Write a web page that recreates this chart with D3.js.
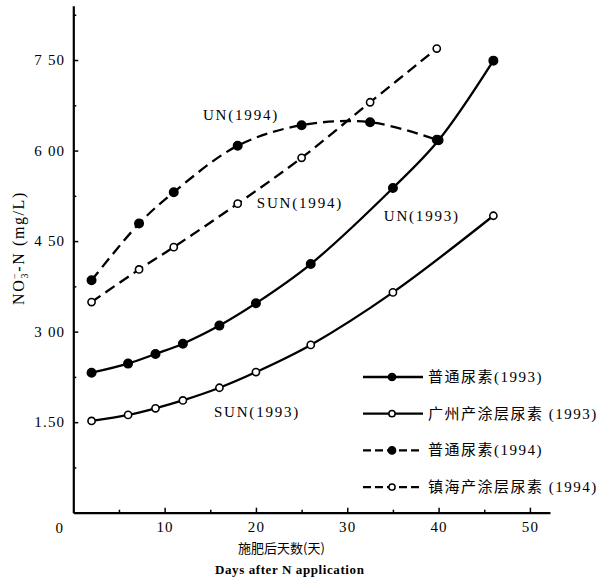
<!DOCTYPE html>
<html>
<head>
<meta charset="utf-8">
<script src="https://cdn.jsdelivr.net/npm/d3@7"></script>
<style>
  body { margin: 0; background: #fff; }
  text { font-family: "Liberation Serif", "DejaVu Serif", "Noto Sans CJK SC", serif; fill: #000; }
</style>
</head>
<body>
<div id="chart"></div>
<script>
// days after N application, and NO3-N values (mg/L)
var days93 = [2, 6, 9, 12, 16, 20, 26, 35, 40, 46];
var un93 = [2.32, 2.47, 2.63, 2.80, 3.10, 3.47, 4.12, 5.38, 6.17, 7.49];
var sun93 = [1.52, 1.62, 1.73, 1.86, 2.07, 2.33, 2.78, 3.65, null, 4.92];
var days94 = [2, 7.2, 11, 18, 25, 32.5, 39.8];
var un94 = [3.85, 4.79, 5.31, 6.08, 6.42, 6.47, 6.18];
var sun94 = [3.49, 4.03, 4.40, 5.12, 5.88, 6.80, 7.69];

var yTicks = [1.5, 3, 4.5, 6, 7.5];
var yTickLabels = ["1.50", "3 00", "4 50", "6 00", "7 50"];
var yMinor = [0.75, 2.25, 3.75, 5.25, 6.75, 8.25];
var xTicks = [10, 20, 30, 40, 50];
var xMinor = [5, 15, 25, 35, 45];

var legendNames = ["普通尿素(1993)", "广州产涂层尿素 (1993)", "普通尿素(1994)", "镇海产涂层尿素 (1994)"];
var curveLabels = [
  {text: "UN(1994)", day: 14.2, val: 6.5},
  {text: "SUN(1994)", day: 20.1, val: 5.05},
  {text: "UN(1993)", day: 34.0, val: 4.83},
  {text: "SUN(1993)", day: 15.4, val: 1.585}
];

var W = 601, H = 581;
var margin = {top: 5.7, right: 51, bottom: 68.3, left: 73.3};
var width = W - margin.left - margin.right,
    height = H - margin.top - margin.bottom;

var svg = d3.select("#chart").append("svg")
    .attr("width", W).attr("height", H)
    .append("g")
    .attr("transform", "translate(" + margin.left + "," + margin.top + ")");

var x = d3.scaleLinear().domain([0, 52.2]).range([0, width]);
var y = d3.scaleLinear().domain([0, 8.4]).range([height, 0]);

// axes
svg.append("g")
    .attr("transform", "translate(0," + height + ")")
    .call(d3.axisBottom(x).tickValues(xTicks).tickSizeInner(-5).tickSizeOuter(0).tickPadding(9));
svg.append("g")
    .attr("transform", "translate(0," + height + ")")
    .call(d3.axisBottom(x).tickValues(xMinor).tickSizeInner(-3).tickSizeOuter(0).tickFormat(""))
    .select(".domain").remove();
svg.append("g")
    .call(d3.axisLeft(y).tickValues(yTicks).tickSizeInner(-5).tickSizeOuter(0).tickPadding(8)
      .tickFormat(function(d, i) { return yTickLabels[i]; }));
svg.append("g")
    .call(d3.axisLeft(y).tickValues(yMinor).tickSizeInner(-3).tickSizeOuter(0).tickFormat(""))
    .select(".domain").remove();

svg.selectAll(".domain").attr("stroke-width", 2.2);
svg.selectAll(".tick line").attr("stroke-width", 1.5);
svg.selectAll(".tick text")
    .style("font-size", "15px")
    .style("letter-spacing", "1.2px")
    .style("font-family", '"Liberation Serif", serif');

svg.append("text").attr("x", -14).attr("y", height + 20)
    .style("font-size", "15px").attr("text-anchor", "middle").text("0");

// axis titles
svg.append("text")
    .attr("x", x(22.8)).attr("y", height + 40)
    .attr("text-anchor", "middle")
    .style("font-size", "13px")
    .style("font-family", '"Noto Sans CJK SC", sans-serif')
    .text("施肥后天数(天)");
svg.append("text")
    .attr("x", x(23.7)).attr("y", height + 61)
    .attr("text-anchor", "middle")
    .style("font-size", "13px").style("font-weight", "bold").style("letter-spacing", "0.6px")
    .text("Days after N application");

var yt = svg.append("text")
    .attr("transform", "translate(" + (-49) + "," + (248 - margin.top) + ") rotate(-90)")
    .attr("text-anchor", "middle")
    .style("font-size", "16px")
    .style("letter-spacing", "1.6px");
yt.append("tspan").text("NO");
yt.append("tspan").style("font-size", "10px").attr("dy", 4).text("3");
yt.append("tspan").style("font-size", "10px").attr("dx", -7).attr("dy", -10).text("−");
yt.append("tspan").attr("dy", 6).text("-N  (mg/L)");

// series
var series = [
  {days: days93, vals: un93, filled: true, dash: null},
  {days: days93, vals: sun93, filled: false, dash: null},
  {days: days94, vals: un94, filled: true, dash: "11,6"},
  {days: days94, vals: sun94, filled: false, dash: "11,6"}
];

var line = d3.line()
    .x(function(d) { return x(d[0]); })
    .y(function(d) { return y(d[1]); })
    .curve(d3.curveCatmullRom.alpha(0.5));

series.forEach(function(s) {
  var pts = s.days.map(function(d, i) { return [d, s.vals[i]]; })
      .filter(function(p) { return p[1] != null; });
  svg.append("path")
      .datum(pts)
      .attr("d", line)
      .attr("fill", "none")
      .attr("stroke", "#000")
      .attr("stroke-width", 2.3)
      .attr("stroke-dasharray", s.dash);
  svg.selectAll(null)
      .data(pts)
      .enter()
      .append("circle")
      .attr("cx", function(d) { return x(d[0]); })
      .attr("cy", function(d) { return y(d[1]); })
      .attr("r", s.filled ? 4.2 : 3.6)
      .attr("fill", s.filled ? "#000" : "#fff")
      .attr("stroke", "#000")
      .attr("stroke-width", 1.6);
});

// curve labels
svg.selectAll(".clabel")
    .data(curveLabels)
    .enter()
    .append("text")
    .attr("x", function(d) { return x(d.day); })
    .attr("y", function(d) { return y(d.val); })
    .style("font-size", "15px")
    .style("letter-spacing", "1.8px")
    .text(function(d) { return d.text; });

// legend
var legend = svg.append("g").attr("transform", "translate(" + (363 - margin.left) + "," + (377 - margin.top) + ")");
legendNames.forEach(function(name, i) {
  var s = series[i];
  var row = legend.append("g").attr("transform", "translate(0," + (i * 36.7) + ")");
  row.append("line")
      .attr("x1", 0).attr("x2", 60).attr("y1", 0).attr("y2", 0)
      .attr("stroke", "#000").attr("stroke-width", 2.3)
      .attr("stroke-dasharray", s.dash ? "8,4" : null);
  row.append("circle")
      .attr("cx", 29).attr("cy", 0)
      .attr("r", s.filled ? 3.6 : 3.1)
      .attr("fill", s.filled ? "#000" : "#fff")
      .attr("stroke", "#000").attr("stroke-width", 1.5);
  row.append("text")
      .attr("x", 65).attr("y", 5)
      .style("font-size", "15px")
      .style("letter-spacing", "1.5px")
      .text(name);
});
</script>
</body>
</html>
